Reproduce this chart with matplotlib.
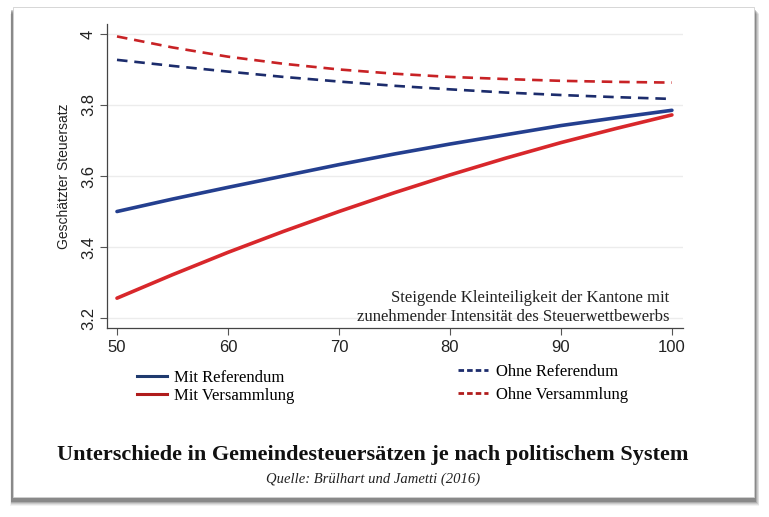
import numpy as np
import matplotlib
matplotlib.use("Agg")
import matplotlib.pyplot as plt
from matplotlib.patches import Rectangle
from matplotlib.lines import Line2D

# Daten
x = [50, 55, 60, 65, 70, 75, 80, 85, 90, 95, 100]
mit_referendum = [3.500, 3.535, 3.568, 3.600, 3.632, 3.662, 3.690, 3.716, 3.742, 3.764, 3.785]
mit_versammlung = [3.256, 3.322, 3.385, 3.444, 3.500, 3.553, 3.603, 3.650, 3.694, 3.734, 3.772]
ohne_referendum = [3.927, 3.910, 3.894, 3.879, 3.866, 3.854, 3.844, 3.835, 3.828, 3.822, 3.817]
ohne_versammlung = [3.993, 3.962, 3.936, 3.916, 3.900, 3.888, 3.879, 3.873, 3.868, 3.865, 3.863]

xticks = [50, 60, 70, 80, 90, 100]
yticks = [3.2, 3.4, 3.6, 3.8, 4.0]
ytick_labels = ["3.2", "3.4", "3.6", "3.8", "4"]

W, H = 769, 517
fig = plt.figure(figsize=(W / 100, H / 100), dpi=100)
fig.patch.set_facecolor("white")

# Karte mit Schatten
for i, a in enumerate([0.05, 0.07, 0.10, 0.14, 0.20]):
    off = 6 - i
    fig.patches.append(Rectangle(((12 - off * 0.3) / W, (H - 500 - off) / H),
                                 (743 + off) / W, 492 / H,
                                 transform=fig.transFigure, facecolor="black",
                                 alpha=a, edgecolor="none", zorder=0))
fig.patches.append(Rectangle((13 / W, (H - 497) / H), 741 / W, 490 / H,
                             transform=fig.transFigure, facecolor="white",
                             edgecolor="#d0d0d0", linewidth=0.6, zorder=1))

ax = fig.add_axes([107 / W, (H - 328) / H, (683 - 107) / W, (328 - 24) / H])
ax.set_zorder(2)
ax.patch.set_alpha(0)

blue = "#243f8f"
red = "#d8272b"
navy = "#1c2c6c"
dred = "#c82225"

ax.plot(x, ohne_versammlung, color=dred, lw=1.9, dashes=(4, 2.6))
ax.plot(x, ohne_referendum, color=navy, lw=1.9, dashes=(4, 2.6))
ax.plot(x, mit_versammlung, color=red, lw=2.6, solid_capstyle="round",
        solid_joinstyle="round")
ax.plot(x, mit_referendum, color=blue, lw=2.6, solid_capstyle="round",
        solid_joinstyle="round")

ax.set_xlim(49.1, 101)
ax.set_ylim(3.172, 4.028)
ax.set_xticks(xticks)
ax.set_yticks(yticks)
ax.set_yticklabels(ytick_labels, rotation=90, va="center")
ax.tick_params(axis="both", direction="out", length=5, width=0.8,
               color="#555555", labelsize=12, labelcolor="#222222",
               labelfontfamily="Liberation Sans")
ax.tick_params(axis="x", pad=4)
ax.tick_params(axis="y", pad=3)
ax.grid(axis="y", color="#ececec", lw=1.0)
ax.set_axisbelow(True)
for s in ["top", "right"]:
    ax.spines[s].set_visible(False)
for s in ["left", "bottom"]:
    ax.spines[s].set_color("#444444")
    ax.spines[s].set_linewidth(0.9)

ax.set_ylabel("Geschätzter Steuersatz", fontsize=10, family="Liberation Sans",
              color="#222222", labelpad=7)

ax.text(0.976, 0.068, "Steigende Kleinteiligkeit der Kantone mit\n"
        "zunehmender Intensität des Steuerwettbewerbs",
        transform=ax.transAxes, ha="right", va="center", fontsize=12,
        family="Liberation Serif", color="#222222", linespacing=1.2,
        multialignment="right")

# Legenden
leg_left = [Line2D([], [], color="#1f3a6e", lw=2.2),
            Line2D([], [], color="#b01c1c", lw=2.2)]
fig.legend(leg_left, ["Mit Referendum", "Mit Versammlung"],
           loc="upper left", bbox_to_anchor=(137 / W, 1 - 369.5 / H),
           frameon=False, prop={"family": "Liberation Serif", "size": 12},
           handlelength=1.8, handletextpad=0.45, labelspacing=0.16,
           borderpad=0, borderaxespad=0)
leg_right = [Line2D([], [], color="#1c2c6c", lw=2.0, dashes=(2.0, 1.1)),
             Line2D([], [], color="#b01c1c", lw=2.0, dashes=(2.0, 1.1))]
fig.legend(leg_right, ["Ohne Referendum", "Ohne Versammlung"],
           loc="upper left", bbox_to_anchor=(458 / W, 1 - 364 / H),
           frameon=False, prop={"family": "Liberation Serif", "size": 12},
           handlelength=1.8, handletextpad=0.45, labelspacing=0.42,
           borderpad=0, borderaxespad=0)

fig.text(373 / W, 1 - 455 / H,
         "Unterschiede in Gemeindesteuersätzen je nach politischem System",
         ha="center", va="center", fontsize=16.0, fontweight="bold",
         family="Liberation Serif", color="#111111")
fig.text(373 / W, 1 - 479 / H, "Quelle: Brülhart und Jametti (2016)",
         ha="center", va="center", fontsize=10.5, style="italic",
         family="Liberation Serif", color="#222222")

fig.savefig("out.png", dpi=100)
